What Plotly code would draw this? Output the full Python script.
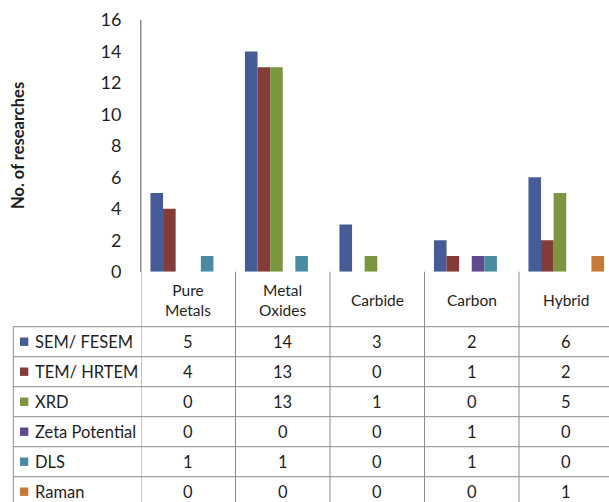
import plotly.graph_objects as go

# Chart data
categories = ["Pure Metals", "Metal Oxides", "Carbide", "Carbon", "Hybrid"]
category_labels = ["Pure<br>Metals", "Metal<br>Oxides", "Carbide", "Carbon", "Hybrid"]
series_names = ["SEM/ FESEM", "TEM/ HRTEM", "XRD", "Zeta Potential", "DLS", "Raman"]
sem_fesem = [5, 14, 3, 2, 6]
tem_hrtem = [4, 13, 0, 1, 2]
xrd = [0, 13, 1, 0, 5]
zeta_potential = [0, 0, 0, 1, 0]
dls = [1, 1, 0, 1, 0]
raman = [0, 0, 0, 0, 1]
series_values = [sem_fesem, tem_hrtem, xrd, zeta_potential, dls, raman]
series_colors = ["#465C97", "#843C39", "#7B963F", "#5F4A8B", "#4B8BA2", "#C67A37"]
y_ticks = [0, 2, 4, 6, 8, 10, 12, 14, 16]

W, H = 609, 502
LEFT, TOP = 141, 20
PLOT_W = W - LEFT
PLOT_H = H - TOP
CAT_W = 94.5
BASE_Y = 271.7
ROW_H = 30.0
HEADER_BOTTOM = 326.7
TABLE_LEFT = 13.3

FONT = "Lato, 'Open Sans', sans-serif"
TEXT_COLOR = "#1f1f1f"
LINE_COLOR = "#8c8c8c"


def px(x):
    return (x - LEFT) / PLOT_W


def py(y):
    return (H - y) / PLOT_H


fig = go.Figure()
for name, vals, col in zip(series_names, series_values, series_colors):
    fig.add_trace(go.Bar(
        x=list(range(len(categories))), y=vals, name=name,
        marker=dict(color=col, line=dict(width=0)),
        hoverinfo="y+name",
    ))

shapes = []
annotations = []

# horizontal lines of the data table
for i in range(6):
    y = HEADER_BOTTOM + i * ROW_H
    shapes.append(dict(type="line", xref="paper", yref="paper",
                       x0=px(TABLE_LEFT), x1=1.02, y0=py(y), y1=py(y),
                       line=dict(color=LINE_COLOR, width=1)))
# left border of the legend column
shapes.append(dict(type="line", xref="paper", yref="paper",
                   x0=px(TABLE_LEFT), x1=px(TABLE_LEFT),
                   y0=py(HEADER_BOTTOM), y1=-0.05,
                   line=dict(color=LINE_COLOR, width=1)))
# vertical column separators
for i in range(len(categories) + 1):
    shapes.append(dict(type="line", xref="x", yref="paper",
                       x0=i - 0.5, x1=i - 0.5,
                       y0=py(BASE_Y) if i > 0 else 1.0, y1=-0.05,
                       line=dict(color=LINE_COLOR, width=1)))

# category header row
for i, lab in enumerate(category_labels):
    annotations.append(dict(x=i, y=py((BASE_Y + HEADER_BOTTOM) / 2 + 1),
                            xref="x", yref="paper", text=lab, showarrow=False,
                            font=dict(family=FONT, size=15.5, color=TEXT_COLOR),
                            xanchor="center", yanchor="middle"))

# legend keys, series names and values
for r, (name, vals, col) in enumerate(zip(series_names, series_values, series_colors)):
    cy = HEADER_BOTTOM + r * ROW_H + ROW_H / 2
    shapes.append(dict(type="rect", xref="paper", yref="paper",
                       x0=px(20), x1=px(28.3), y0=py(cy - 4.2), y1=py(cy + 4.2),
                       fillcolor=col, line=dict(width=0)))
    annotations.append(dict(x=px(32.5), y=py(cy), xref="paper", yref="paper",
                            text=name, showarrow=False, xanchor="left", yanchor="middle",
                            font=dict(family=FONT, size=16.5, color=TEXT_COLOR)))
    for i, v in enumerate(vals):
        annotations.append(dict(x=i, y=py(cy), xref="x", yref="paper",
                                text=str(v), showarrow=False,
                                xanchor="center", yanchor="middle",
                                font=dict(family=FONT, size=16.5, color=TEXT_COLOR)))

# y-axis title
annotations.append(dict(x=px(18), y=py(146), xref="paper", yref="paper",
                        text="<b>No. of researches</b>", showarrow=False, textangle=-90,
                        xanchor="center", yanchor="middle",
                        font=dict(family=FONT, size=16.5, color=TEXT_COLOR)))

x_max = -0.5 + PLOT_W / CAT_W

fig.update_layout(
    width=W, height=H,
    margin=dict(l=LEFT, r=0, t=TOP, b=0, autoexpand=False),
    paper_bgcolor="white", plot_bgcolor="white",
    barmode="group", bargap=0.2, bargroupgap=0,
    showlegend=False,
    shapes=shapes, annotations=annotations,
    xaxis=dict(range=[-0.5, x_max], showticklabels=False, showgrid=False,
               zeroline=False, showline=False, ticks="", fixedrange=True),
    yaxis=dict(range=[0, 16], domain=[py(BASE_Y), 1], tickvals=y_ticks,
               showgrid=False, zeroline=False, showline=True,
               linecolor=LINE_COLOR, linewidth=1, ticks="", ticklen=0,
               ticklabelstandoff=15,
               tickfont=dict(family=FONT, size=18, color=TEXT_COLOR),
               fixedrange=True),
    font=dict(family=FONT, color=TEXT_COLOR),
)

fig.write_html("out.html", config={"displayModeBar": False})
